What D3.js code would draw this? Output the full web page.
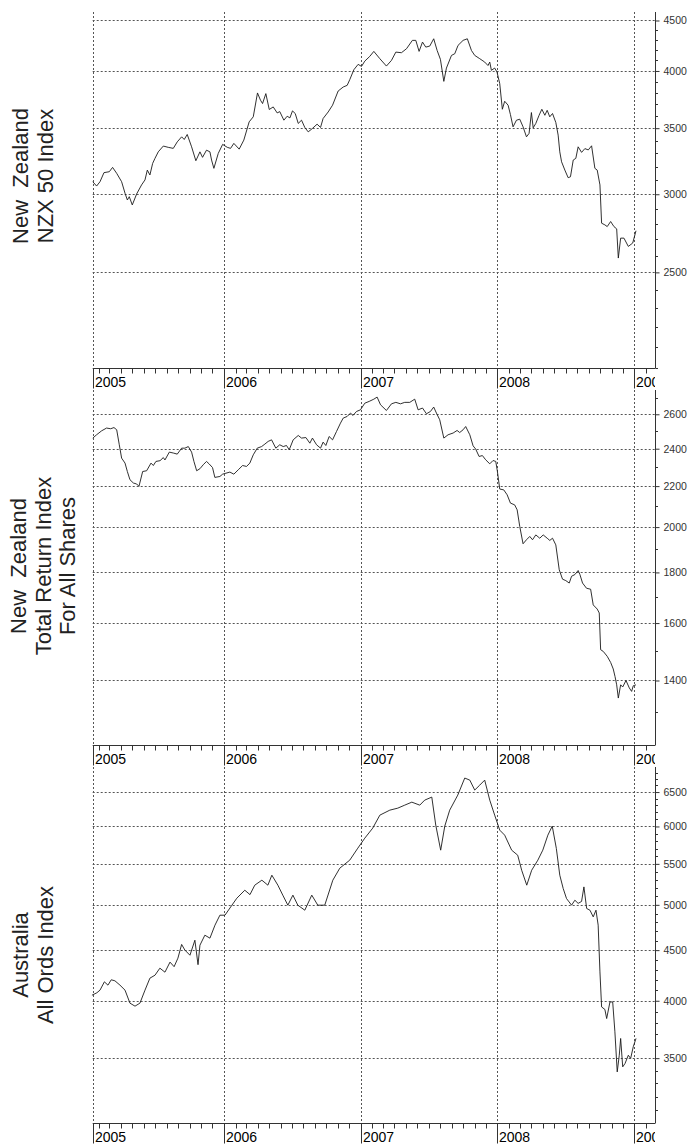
<!DOCTYPE html>
<html>
<head>
<meta charset="utf-8">
<title>NZ and Australian share indices</title>
<script src="https://d3js.org/d3.v7.min.js"></script>
<style>
  body { margin: 0; background: #fff; }
  text { font-family: Arial, "Liberation Sans", sans-serif; }
</style>
</head>
<body>
<script>
var nzxDates = [2005.04,2005.068,2005.093,2005.122,2005.161,2005.185,2005.215,2005.251,2005.276,2005.293,2005.307,2005.329,2005.361,2005.397,2005.422,2005.439,2005.458,2005.478,2005.495,2005.519,2005.556,2005.592,2005.629,2005.658,2005.69,2005.709,2005.731,2005.763,2005.794,2005.824,2005.843,2005.872,2005.897,2005.909,2005.926,2005.958,2005.99,2006.024,2006.048,2006.072,2006.111,2006.145,2006.184,2006.214,2006.245,2006.267,2006.282,2006.306,2006.331,2006.36,2006.389,2006.408,2006.438,2006.462,2006.482,2006.501,2006.521,2006.543,2006.567,2006.591,2006.616,2006.647,2006.681,2006.706,2006.725,2006.762,2006.794,2006.835,2006.872,2006.901,2006.92,2006.95,2006.981,2007.006,2007.03,2007.066,
  2007.096,2007.14,2007.188,2007.225,2007.257,2007.298,2007.335,2007.378,2007.403,2007.427,2007.452,2007.476,2007.505,2007.534,2007.559,2007.583,2007.608,2007.627,2007.664,2007.688,2007.712,2007.749,2007.78,2007.81,2007.834,2007.871,2007.907,2007.931,2007.944,2007.956,2007.98,2007.997,2008.017,2008.036,2008.053,2008.078,2008.095,2008.114,2008.139,2008.163,2008.187,2008.212,2008.231,2008.248,2008.261,2008.28,2008.304,2008.324,2008.346,2008.363,2008.382,2008.402,2008.426,2008.443,2008.455,2008.468,2008.492,2008.516,2008.533,2008.553,2008.572,2008.589,2008.614,2008.638,2008.663,2008.687,2008.711,2008.728,2008.748,2008.76,2008.784,2008.801,2008.826,2008.85,2008.87,2008.882,2008.899,2008.923,2008.955,2008.987,2009.011];
var nzxValues = [3089,3058,3089,3155,3162,3194,3150,3089,3007,2960,2983,2926,3002,3066,3102,3174,3138,3224,3262,3312,3357,3347,3339,3390,3430,3409,3449,3351,3244,3312,3270,3325,3312,3249,3187,3300,3370,3347,3339,3378,3333,3404,3552,3594,3800,3736,3707,3794,3656,3678,3627,3638,3566,3599,3585,3644,3622,3539,3566,3506,3470,3498,3533,3506,3580,3635,3693,3817,3853,3868,3920,4012,4062,4043,4093,4138,
  4187,4116,4046,4100,4180,4174,4213,4296,4296,4187,4279,4229,4239,4312,4196,4110,3904,4027,4148,4164,4246,4296,4312,4196,4148,4116,4084,4051,4084,4006,4027,3990,3883,3658,3727,3693,3613,3511,3566,3574,3511,3430,3458,3630,3503,3539,3607,3658,3607,3649,3594,3622,3547,3444,3312,3236,3174,3118,3125,3249,3262,3351,3308,3337,3327,3359,3187,3174,3066,2804,2793,2782,2815,2782,2767,2585,2708,2708,2656,2677,2755];

var trDates = [2005.04,2005.068,2005.105,2005.141,2005.171,2005.195,2005.215,2005.234,2005.251,2005.276,2005.293,2005.312,2005.337,2005.361,2005.378,2005.405,2005.434,2005.466,2005.483,2005.502,2005.532,2005.556,2005.568,2005.6,2005.629,2005.658,2005.69,2005.714,2005.739,2005.763,2005.78,2005.8,2005.824,2005.848,2005.872,2005.892,2005.916,2005.933,2005.97,2005.99,2006.014,2006.043,2006.072,2006.104,2006.136,2006.165,2006.189,2006.214,2006.243,2006.275,2006.299,2006.323,2006.348,2006.379,2006.408,2006.433,2006.457,2006.477,2006.506,2006.543,2006.567,2006.599,2006.628,2006.647,2006.677,2006.706,2006.725,2006.745,2006.769,2006.794,2006.823,2006.852,2006.872,2006.901,2006.925,2006.944,2006.969,2006.998,2007.03,2007.062,
  2007.096,2007.12,2007.145,2007.188,2007.225,2007.257,2007.291,2007.322,2007.359,2007.395,2007.42,2007.452,2007.481,2007.51,2007.534,2007.554,2007.578,2007.608,2007.639,2007.676,2007.705,2007.724,2007.749,2007.768,2007.798,2007.822,2007.841,2007.866,2007.89,2007.914,2007.944,2007.968,2007.988,2008.0,2008.017,2008.046,2008.071,2008.095,2008.126,2008.144,2008.163,2008.187,2008.212,2008.236,2008.256,2008.28,2008.309,2008.334,2008.363,2008.382,2008.402,2008.426,2008.451,2008.475,2008.499,2008.524,2008.541,2008.565,2008.589,2008.602,2008.621,2008.65,2008.68,2008.699,2008.728,2008.743,2008.753,2008.772,2008.801,2008.826,2008.845,2008.858,2008.87,2008.882,2008.899,2008.914,2008.938,2008.962,2008.979,2008.991,2009.011];
var trValues = [2460,2479,2502,2518,2514,2521,2508,2422,2348,2321,2276,2233,2216,2211,2199,2276,2280,2321,2308,2330,2334,2351,2338,2381,2376,2370,2403,2403,2412,2381,2330,2280,2291,2312,2330,2316,2297,2245,2250,2262,2267,2273,2262,2285,2308,2303,2321,2366,2403,2412,2426,2441,2450,2403,2422,2412,2418,2394,2450,2475,2460,2463,2431,2460,2422,2403,2437,2418,2469,2450,2498,2547,2577,2587,2607,2593,2617,2627,2668,2679,
  2693,2706,2658,2623,2664,2673,2664,2673,2673,2693,2627,2638,2603,2617,2644,2607,2567,2460,2479,2489,2504,2492,2508,2527,2479,2416,2398,2357,2362,2339,2317,2335,2330,2276,2185,2181,2156,2115,2106,2082,2003,1924,1942,1957,1942,1964,1949,1964,1949,1939,1949,1919,1811,1772,1766,1756,1784,1791,1808,1791,1756,1735,1731,1669,1653,1638,1504,1498,1481,1460,1438,1413,1386,1344,1386,1379,1400,1376,1365,1383,1386];

var ordsDates = [2005.034,2005.07,2005.093,2005.125,2005.151,2005.175,2005.202,2005.239,2005.276,2005.312,2005.349,2005.385,2005.422,2005.458,2005.495,2005.531,2005.568,2005.605,2005.635,2005.663,2005.69,2005.714,2005.751,2005.787,2005.81,2005.824,2005.86,2005.897,2005.934,2005.97,2006.007,2006.058,2006.094,2006.152,2006.19,2006.225,2006.277,2006.321,2006.35,2006.394,2006.43,2006.467,2006.504,2006.54,2006.591,2006.642,2006.686,2006.737,2006.796,2006.847,2006.92,2006.979,2007.03,2007.088,2007.14,2007.213,2007.271,2007.322,2007.374,2007.432,2007.468,2007.52,2007.549,2007.585,2007.615,2007.651,2007.71,2007.761,2007.798,2007.834,2007.871,2007.907,2007.944,2007.98,2008.017,2008.053,2008.104,2008.148,2008.177,2008.214,2008.25,2008.295,2008.331,2008.368,2008.40,2008.43,2008.455,2008.48,2008.504,2008.523,2008.541,2008.565,2008.589,2008.614,2008.631,2008.651,2008.675,2008.699,2008.719,2008.735,2008.748,2008.76,2008.784,2008.797,2008.821,2008.841,2008.857,2008.874,2008.889,2008.899,2008.914,2008.931,2008.955,2008.972,2008.991,2009.011];
var ordsValues = [4052,4075,4100,4180,4148,4200,4190,4148,4100,3978,3950,3978,4100,4216,4245,4315,4275,4376,4330,4417,4560,4500,4447,4605,4350,4552,4659,4627,4769,4881,4881,4996,5078,5173,5120,5234,5295,5234,5357,5234,5114,4996,5114,4996,4938,5114,4996,4996,5295,5445,5548,5705,5839,5977,6160,6232,6261,6305,6349,6305,6379,6424,6019,5678,6005,6232,6454,6715,6683,6530,6606,6683,6379,6160,5949,5880,5678,5612,5419,5234,5419,5548,5678,5880,6005,5700,5357,5193,5074,5034,4996,5054,5017,5040,5213,4958,4938,4862,4938,4769,4278,3943,3920,3838,3989,3989,3721,3390,3524,3664,3430,3457,3524,3498,3594,3664];

var nzxTicks = [2500, 3000, 3500, 4000, 4500];
var trTicks = [1400, 1600, 1800, 2000, 2200, 2400, 2600];
var ordsTicks = [3500, 4000, 4500, 5000, 5500, 6000, 6500];
var yearLabels = ["2005", "2006", "2007", "2008", "2009"];

var W = 690, H = 1144;
var left = 92.7, right = 655;

function toDate(t) {
  var y = Math.floor(t);
  var a = Date.UTC(y, 0, 1), b = Date.UTC(y + 1, 0, 1);
  return new Date(a + (t - y) * (b - a));
}

var xStart = toDate(2005.0395), xEnd = toDate(2009.15);
var x = d3.scaleUtc().domain([xStart, xEnd]).range([left, right]);

var panels = [
  {title: ["New  Zealand", "NZX 50 Index"], dates: nzxDates, values: nzxValues,
   domain: [2000, 4590], ticks: nzxTicks, top: 12, bottom: 368, tx: [20, 45], ty: 176},
  {title: ["New  Zealand", "Total Return Index", "For All Shares"], dates: trDates, values: trValues,
   domain: [1205, 2751], ticks: trTicks, top: 390, bottom: 745, tx: [18, 43, 67], ty: 566},
  {title: ["Australia", "All Ords Index"], dates: ordsDates, values: ordsValues,
   domain: [3010, 6890], ticks: ordsTicks, top: 767, bottom: 1123, tx: [20, 45], ty: 955}
];

var svg = d3.select("body").append("svg").attr("width", W).attr("height", H);

svg.append("defs").append("clipPath").attr("id", "clipx")
  .append("rect").attr("x", 0).attr("y", 0).attr("width", right).attr("height", H);

var yearStarts = d3.utcYear.range(d3.utcYear.ceil(xStart), xEnd);
var gridX = [xStart].concat(yearStarts);
var months = d3.utcMonth.range(d3.utcMonth.ceil(xStart), xEnd);

panels.forEach(function(p) {
  var y = d3.scaleLog().domain(p.domain).range([p.bottom, p.top]);
  var g = svg.append("g");

  // horizontal grid
  g.selectAll(".hg").data(p.ticks).enter().append("line")
    .attr("x1", left).attr("x2", right)
    .attr("y1", function(d) { return Math.round(y(d)) + 0.5; })
    .attr("y2", function(d) { return Math.round(y(d)) + 0.5; })
    .attr("stroke", "#555").attr("stroke-width", 1).attr("stroke-dasharray", "2,2");

  // vertical grid at year starts
  g.selectAll(".vg").data(gridX).enter().append("line")
    .attr("x1", function(d) { return Math.round(x(d)) + 0.5; })
    .attr("x2", function(d) { return Math.round(x(d)) + 0.5; })
    .attr("y1", p.top).attr("y2", p.bottom)
    .attr("stroke", "#555").attr("stroke-width", 1).attr("stroke-dasharray", "2,2");

  // series
  var pts = p.dates.map(function(t, i) { return [toDate(t), p.values[i]]; });
  g.append("path").datum(pts)
    .attr("fill", "none").attr("stroke", "#1a1a1a").attr("stroke-width", 0.9)
    .attr("d", d3.line().x(function(d) { return x(d[0]); }).y(function(d) { return y(d[1]); }));

  // right axis
  var minor = d3.range(Math.ceil(p.domain[0] / 100) * 100, p.domain[1], 100)
    .filter(function(v) { return p.ticks.indexOf(v) < 0; });
  var ax = d3.axisRight(y).tickValues(p.ticks).tickFormat(d3.format("d")).tickSize(4).tickPadding(4);
  var ga = g.append("g").attr("transform", "translate(" + (right + 0.5) + ",0)").call(ax);
  ga.select(".domain").attr("d", "M0," + p.top + "V" + p.bottom).attr("stroke", "#333");
  ga.selectAll(".tick line").attr("stroke", "#333");
  ga.selectAll(".tick text").attr("font-size", 10.5).attr("fill", "#333")
    .style("font-family", "Arial, 'Liberation Sans', sans-serif");
  ga.selectAll(".mt").data(minor).enter().append("line")
    .attr("x1", 0).attr("x2", 2.5)
    .attr("y1", function(d) { return Math.round(y(d)) + 0.5; })
    .attr("y2", function(d) { return Math.round(y(d)) + 0.5; })
    .attr("stroke", "#333");

  // bottom axis
  var b = Math.round(p.bottom) + 0.5;
  g.append("line").attr("x1", left).attr("x2", right + 0.5).attr("y1", b).attr("y2", b).attr("stroke", "#333");
  g.selectAll(".mth").data(months).enter().append("line")
    .attr("x1", function(d) { return Math.round(x(d)) + 0.5; })
    .attr("x2", function(d) { return Math.round(x(d)) + 0.5; })
    .attr("y1", b).attr("y2", b + 5).attr("stroke", "#333");
  g.selectAll(".yt").data(gridX).enter().append("line")
    .attr("x1", function(d) { return Math.round(x(d)) + 0.5; })
    .attr("x2", function(d) { return Math.round(x(d)) + 0.5; })
    .attr("y1", b).attr("y2", b + 20).attr("stroke", "#333");
  g.append("g").attr("clip-path", "url(#clipx)")
    .selectAll("text").data(gridX).enter().append("text")
    .attr("x", function(d) { return Math.round(x(d)) + 2; })
    .attr("y", b + 18)
    .attr("font-size", 14).attr("fill", "#000")
    .text(function(d, i) { return yearLabels[i]; });

  // rotated title
  g.selectAll(".ttl").data(p.title).enter().append("text")
    .attr("transform", function(d, i) { return "translate(" + (p.tx[i] + 8) + "," + p.ty + ") rotate(-90)"; })
    .attr("text-anchor", "middle")
    .attr("font-size", 22).attr("fill", "#222")
    .style("white-space", "pre")
    .text(function(d) { return d; });
});
</script>
</body>
</html>
